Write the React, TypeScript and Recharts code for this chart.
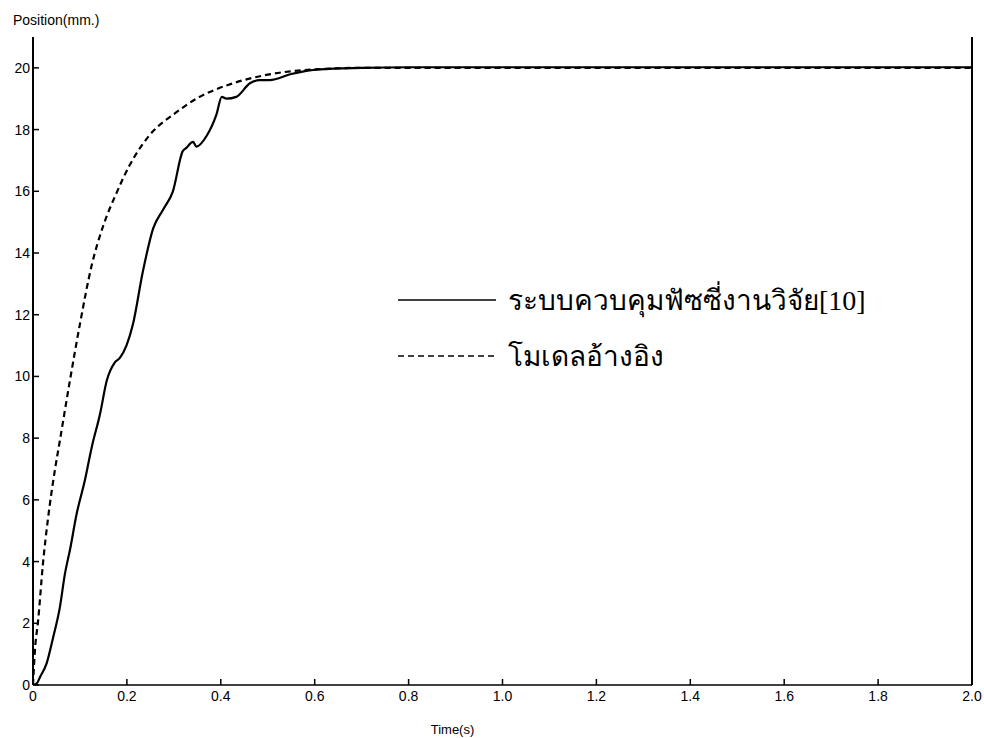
import { LineChart, Line, XAxis, YAxis, Legend } from "recharts";

// time (s) / position (mm)
const modelTime = [0, 0.004, 0.011, 0.021, 0.032, 0.047, 0.057, 0.079, 0.1, 0.125, 0.15, 0.178, 0.206, 0.23, 0.256, 0.3, 0.348, 0.426, 0.5, 0.6, 0.7, 1.0, 2.0];
const modelPos = [0, 1.1, 2.1, 3.9, 5.4, 7.0, 7.9, 9.9, 11.7, 13.6, 14.9, 15.95, 16.85, 17.45, 17.95, 18.5, 19.0, 19.5, 19.78, 19.95, 20.0, 20.0, 20.0];

const fuzzyTime = [0, 0.008, 0.015, 0.029, 0.043, 0.057, 0.068, 0.079, 0.093, 0.11, 0.125, 0.143, 0.157, 0.174, 0.185, 0.199, 0.213, 0.234, 0.256, 0.277, 0.298, 0.319, 0.326, 0.341, 0.348, 0.37, 0.391, 0.402, 0.412, 0.433, 0.462, 0.483, 0.504, 0.55, 0.61, 0.7, 0.8, 1.2, 2.0];
const fuzzyPos = [0, 0.05, 0.26, 0.7, 1.55, 2.5, 3.6, 4.4, 5.55, 6.6, 7.7, 8.8, 9.86, 10.45, 10.6, 11.0, 11.7, 13.4, 14.8, 15.4, 16.0, 17.3, 17.4, 17.6, 17.45, 17.8, 18.5, 19.06, 19.0, 19.06, 19.5, 19.6, 19.6, 19.8, 19.95, 20.0, 20.02, 20.02, 20.02];

const xTicks = [0, 0.2, 0.4, 0.6, 0.8, 1.0, 1.2, 1.4, 1.6, 1.8, 2.0];
const yTicks = [0, 2, 4, 6, 8, 10, 12, 14, 16, 18, 20];

const fuzzyData = fuzzyTime.map((t, i) => ({ t, y: fuzzyPos[i] }));
const modelData = modelTime.map((t, i) => ({ t, y: modelPos[i] }));

const axisFont = "'Liberation Sans', Arial, sans-serif";

const BottomTick = (props: any) => {
  const { x, y, payload } = props;
  return (
    <g>
      <line x1={x} y1={y} x2={x} y2={y - 6} stroke="#000" strokeWidth={1.5} />
      <text x={x} y={y + 16} textAnchor="middle" fontSize={14} fontFamily={axisFont} fill="#000">
        {payload.value === 0 ? "0" : payload.value.toFixed(1)}
      </text>
    </g>
  );
};

const TopTick = (props: any) => {
  const { x, y } = props;
  return <line x1={x} y1={y} x2={x} y2={y + 6} stroke="#000" strokeWidth={1.5} />;
};

const LeftTick = (props: any) => {
  const { x, y, payload } = props;
  return (
    <g>
      <line x1={x} y1={y} x2={x + 6} y2={y} stroke="#000" strokeWidth={1.5} />
      <text x={x - 3} y={y + 5} textAnchor="end" fontSize={14} fontFamily={axisFont} fill="#000">
        {payload.value}
      </text>
    </g>
  );
};

const RightTick = (props: any) => {
  const { x, y } = props;
  return <line x1={x} y1={y} x2={x - 6} y2={y} stroke="#000" strokeWidth={1.5} />;
};

const LegendBox = (props: any) => {
  const { payload } = props;
  return (
    <div>
      {payload.map((entry: any) => (
        <div key={entry.value} style={{ display: "flex", alignItems: "center", height: 56 }}>
          <svg width={110} height={10}>
            <line
              x1={0}
              y1={5}
              x2={98}
              y2={5}
              stroke="#000"
              strokeWidth={1.6}
              strokeDasharray={entry.payload.strokeDasharray}
            />
          </svg>
          <span style={{ fontFamily: "'Liberation Serif', 'Times New Roman', serif", fontSize: 28, color: "#000", whiteSpace: "nowrap" }}>
            {entry.value}
          </span>
        </div>
      ))}
    </div>
  );
};

export default function App() {
  return (
    <div style={{ position: "absolute", left: 0, top: 0, width: 984, height: 738, background: "#fff" }}>
      <div
        style={{
          position: "absolute",
          left: 13,
          top: 12,
          fontFamily: axisFont,
          fontSize: 14,
          color: "#000",
          zIndex: 2,
        }}
      >
        Position(mm.)
      </div>
      <LineChart width={984} height={738} margin={{ top: 37, right: 0, bottom: 0, left: 0 }}>
        <XAxis
          xAxisId="bottom"
          dataKey="t"
          type="number"
          domain={[0, 2]}
          ticks={xTicks}
          tickSize={0}
          tickMargin={0}
          tick={<BottomTick />}
          height={53}
          axisLine={{ stroke: "#000", strokeWidth: 1.5 }}
          allowDataOverflow
          label={{ value: "Time(s)", position: "insideBottom", offset: 4, dx: -50, fontSize: 13, fontFamily: axisFont, fill: "#000" }}
        />
        <XAxis
          xAxisId="top"
          orientation="top"
          dataKey="t"
          type="number"
          domain={[0, 2]}
          ticks={xTicks}
          tickSize={0}
          tickMargin={0}
          tick={<TopTick />}
          height={0}
          axisLine={{ stroke: "#000", strokeWidth: 1.5 }}
        />
        <YAxis
          yAxisId="left"
          type="number"
          domain={[0, 21]}
          ticks={yTicks}
          tickSize={0}
          tickMargin={0}
          tick={<LeftTick />}
          width={33}
          axisLine={{ stroke: "#000", strokeWidth: 2 }}
          allowDataOverflow
        />
        <YAxis
          yAxisId="right"
          orientation="right"
          type="number"
          domain={[0, 21]}
          ticks={yTicks}
          tickSize={0}
          tickMargin={0}
          tick={<RightTick />}
          width={12}
          axisLine={{ stroke: "#000", strokeWidth: 2 }}
        />
        <Legend
          layout="horizontal"
          verticalAlign="middle"
          align="center"
          content={<LegendBox />}
          wrapperStyle={{ left: 398, top: 272, width: 500 }}
        />
        <Line
          xAxisId="bottom"
          yAxisId="left"
          data={fuzzyData}
          dataKey="y"
          name="ระบบควบคุมฟัซซี่งานวิจัย[10]"
          type="monotone"
          stroke="#000"
          strokeWidth={2.2}
          dot={false}
          isAnimationActive={false}
        />
        <Line
          xAxisId="bottom"
          yAxisId="left"
          data={modelData}
          dataKey="y"
          name="โมเดลอ้างอิง"
          type="monotone"
          stroke="#000"
          strokeWidth={2.2}
          strokeDasharray="6 4"
          dot={false}
          isAnimationActive={false}
        />
      </LineChart>
    </div>
  );
}
